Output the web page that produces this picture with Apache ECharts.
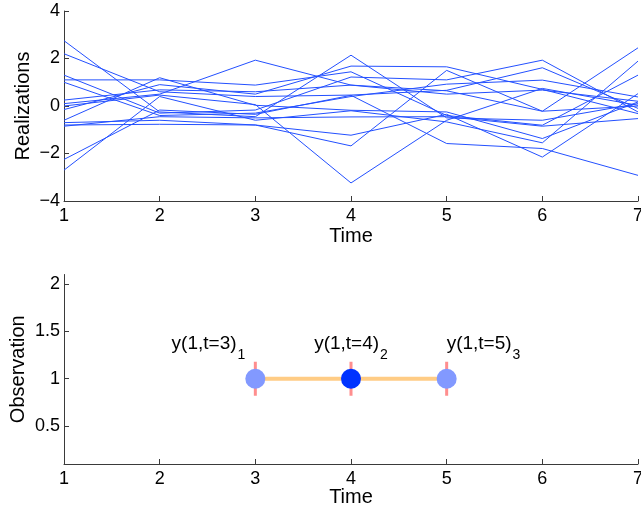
<!DOCTYPE html>
<html>
<head>
<meta charset="utf-8">
<script src="https://cdn.jsdelivr.net/npm/echarts@6/dist/echarts.min.js"></script>
<style>
  html, body { margin: 0; padding: 0; background: #fff; }
  #chart { width: 641px; height: 510px; }
</style>
</head>
<body>
<div id="chart"></div>
<script>
// Time steps shared by both panels
const times = [1, 2, 3, 4, 5, 6, 7];

// Sampled realizations, one row per path (values at t = 1..7)
const realizations = [
  [ 2.75, -0.25, -0.45,  2.14, -0.50, -0.60,  0.10],
  [ 2.20,  0.60,  0.40,  0.46,  0.66,  1.61, -0.10],
  [ 1.30, -0.30, -0.17,  1.22,  1.10,  1.93, -0.25],
  [ 1.10,  1.10,  0.88,  1.44, -0.40, -0.81,  1.30],
  [ 1.00, -0.40, -0.30,  0.40,  0.92,  1.09,  0.38],
  [ 0.25,  0.68,  0.60,  0.88,  0.64, -0.22,  2.45],
  [ 0.10,  0.50,  1.93,  0.88,  0.50,  0.67,  0.20],
  [ 0.00,  0.46,  0.06, -3.24, -0.60,  0.74,  0.03],
  [-0.15,  0.90,  0.50,  1.68,  1.65,  0.70, -0.32],
  [-0.60,  1.19,  0.03, -0.18, -0.25, -1.37,  0.17],
  [-0.70, -0.60, -0.80, -1.68,  1.50, -0.22,  0.00],
  [-0.80, -0.77, -0.80, -1.23, -0.35, -2.15,  0.52],
  [-0.85, -0.45, -0.50, -0.46, -0.45, -0.85, -0.53],
  [-2.25, -0.17, -0.35,  0.45, -1.58, -1.79, -2.92],
  [-2.70,  0.40, -0.60, -0.20, -0.67, -1.55,  1.89]
];

// Observation panel: three observed time steps
const obsTimes = [3, 4, 5];
const obsValues = [1, 1, 1];
const obsNames = ['y(1,t=3)', 'y(1,t=4)', 'y(1,t=5)'];
const obsSubscripts = ['1', '2', '3'];
const obsSpread = 0.18;

// Axis ticks
const realizationTicks = [-4, -2, 0, 2, 4];
const observationTicks = [0.5, 1, 1.5, 2];

const FONT = 'Liberation Sans, Arial, Helvetica, sans-serif';
const AXIS_COLOR = '#3a3a3a';
const LINE_BLUE = '#2350ff';
const DOT_LIGHT = '#8299ff';
const DOT_DARK = '#0033ff';
const BAR_RED = '#ff8e8e';
const LINK_ORANGE = '#ffcc85';
const NAME_SIZE = 19;
const SUB_SIZE = 14;

const minus = v => String(v).replace('-', '\u2212');

// Text widths, used to place each subscript right after its label
const measureCtx = document.createElement('canvas').getContext('2d');
function textWidth(text, size) {
  measureCtx.font = size + 'px ' + FONT;
  return measureCtx.measureText(text).width;
}

function valueXAxis(gridIndex, gap) {
  return {
    type: 'value', gridIndex, min: 1, max: 7, interval: 1,
    name: 'Time', nameLocation: 'middle', nameGap: gap, nameMoveOverlap: false,
    nameTextStyle: { fontFamily: FONT, fontSize: 20, color: '#000' },
    axisLine: { show: true, onZero: false, lineStyle: { color: AXIS_COLOR, width: 1 } },
    axisTick: { show: true, inside: true, length: 5, lineStyle: { color: AXIS_COLOR } },
    axisLabel: { fontFamily: FONT, fontSize: 18, color: '#000', margin: 6 },
    splitLine: { show: false }
  };
}

function valueYAxis(gridIndex, min, max, ticks, name, gap) {
  return {
    type: 'value', gridIndex, min, max,
    name, nameLocation: 'middle', nameGap: gap, nameMoveOverlap: false,
    nameTextStyle: { fontFamily: FONT, fontSize: 20, color: '#000' },
    axisLine: { show: true, onZero: false, lineStyle: { color: AXIS_COLOR, width: 1 } },
    axisTick: { show: true, inside: true, length: 5, lineStyle: { color: AXIS_COLOR }, customValues: ticks },
    axisLabel: {
      fontFamily: FONT, fontSize: 18, color: '#000', margin: 4,
      padding: [8, 0, 0, 0], formatter: minus, customValues: ticks
    },
    splitLine: { show: false }
  };
}

const series = [];

realizations.forEach((row, i) => {
  series.push({
    type: 'line', name: 'path' + (i + 1), xAxisIndex: 0, yAxisIndex: 0,
    data: times.map((t, k) => [t, row[k]]),
    showSymbol: false, symbol: 'none',
    lineStyle: { color: LINE_BLUE, width: 1 },
    z: 2
  });
});

// Vertical spread bars behind each observation
obsTimes.forEach((t, i) => {
  series.push({
    type: 'line', xAxisIndex: 1, yAxisIndex: 1,
    data: [[t, obsValues[i] - obsSpread], [t, obsValues[i] + obsSpread]],
    symbol: 'none', lineStyle: { color: BAR_RED, width: 3 }, z: 1
  });
});

// Link between observed times
series.push({
  type: 'line', xAxisIndex: 1, yAxisIndex: 1,
  data: obsTimes.map((t, i) => [t, obsValues[i]]),
  symbol: 'none', lineStyle: { color: LINK_ORANGE, width: 4 }, z: 2
});

// Label placement: first label ends left of its point, second is centred,
// third starts at its point
const mainX = [], subX = [];
obsNames.forEach((name, i) => {
  const wMain = textWidth(name, NAME_SIZE);
  const wSub = textWidth(obsSubscripts[i], SUB_SIZE);
  const total = wMain + 1 + wSub;
  const start = i === 0 ? -10 - total : i === 1 ? -total / 2 : 0;
  mainX.push(start);
  subX.push(start + wMain + 1);
});

// Observation markers with their labels
series.push({
  type: 'scatter', xAxisIndex: 1, yAxisIndex: 1,
  symbolSize: 20, z: 3,
  emphasis: { disabled: true },
  data: obsTimes.map((t, i) => ({
    value: [t, obsValues[i]],
    itemStyle: { color: i === 1 ? DOT_DARK : DOT_LIGHT, opacity: 1 },
    label: { offset: [mainX[i], 0] }
  })),
  label: {
    show: true, position: 'top', distance: 15, align: 'left',
    fontFamily: FONT, fontSize: NAME_SIZE, color: '#000',
    formatter: p => obsNames[p.dataIndex]
  }
});

// Subscripts of the observation labels (carried by transparent markers)
series.push({
  type: 'scatter', xAxisIndex: 1, yAxisIndex: 1,
  symbolSize: 20, z: 4, silent: true,
  itemStyle: { color: 'rgba(0,0,0,0)' },
  emphasis: { disabled: true },
  data: obsTimes.map((t, i) => ({
    value: [t, obsValues[i]],
    label: { offset: [subX[i], 8] }
  })),
  label: {
    show: true, position: 'top', distance: 15, align: 'left',
    fontFamily: FONT, fontSize: SUB_SIZE, color: '#000', opacity: 1,
    formatter: p => obsSubscripts[p.dataIndex]
  }
});

const option = {
  backgroundColor: '#fff',
  animation: false,
  grid: [
    { left: 64, right: 3, top: 11, bottom: 309, outerBoundsMode: 'none', containLabel: false },
    { left: 64, right: 3, top: 274.5, bottom: 46, outerBoundsMode: 'none', containLabel: false }
  ],
  xAxis: [valueXAxis(0, 25), valueXAxis(1, 23)],
  yAxis: [
    valueYAxis(0, -4, 4, realizationTicks, 'Realizations', 31),
    valueYAxis(1, 0.1, 2.1, observationTicks, 'Observation', 36)
  ],
  series
};

const chart = echarts.init(document.getElementById('chart'), null, { renderer: 'canvas' });
chart.setOption(option);
</script>
</body>
</html>
